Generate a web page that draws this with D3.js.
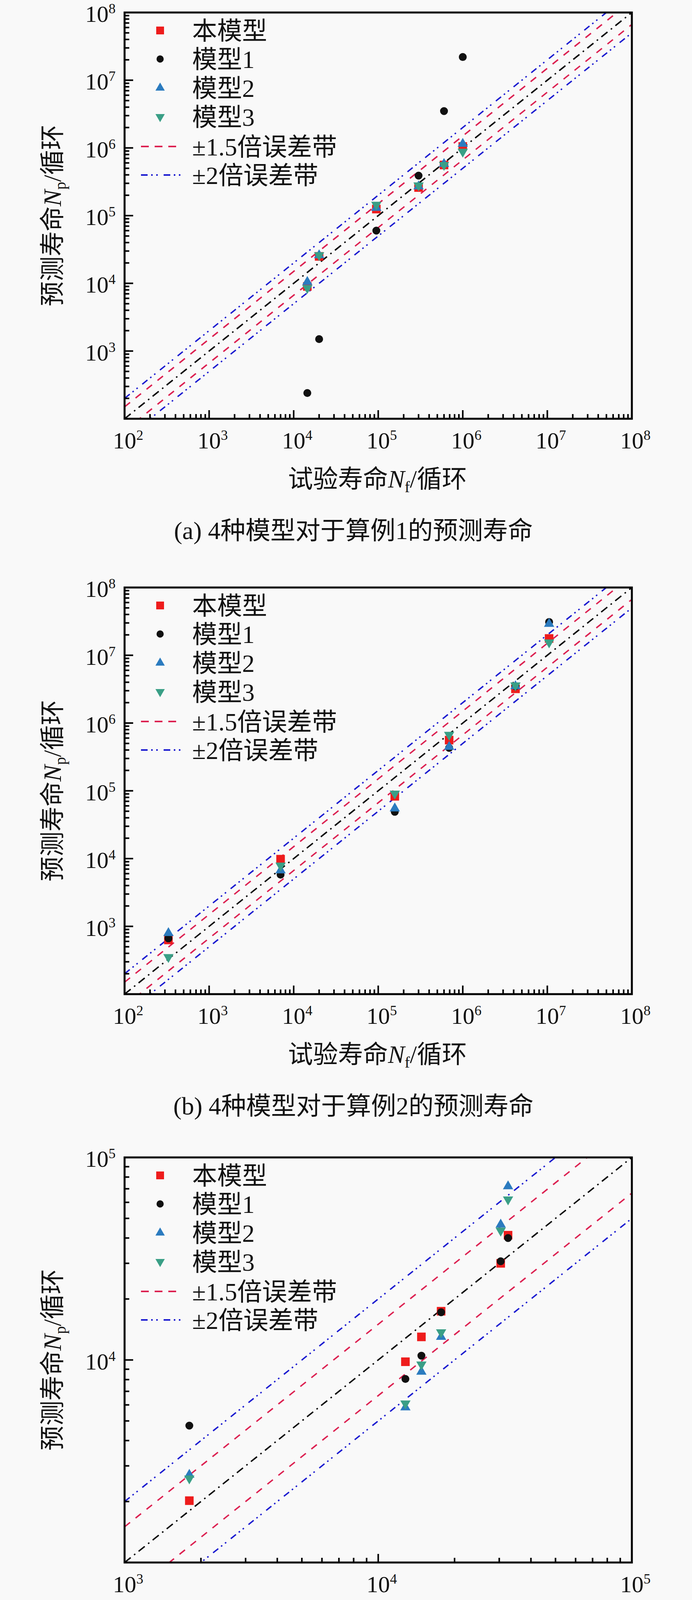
<!DOCTYPE html>
<html><head><meta charset="utf-8">
<script src="https://cdn.jsdelivr.net/npm/d3@7/dist/d3.min.js"></script>
<style>
body{margin:0;background:#f9f9f9;}
svg{display:block;}
text{font-family:"Liberation Serif","Times New Roman","Noto Sans CJK SC",serif;fill:#111;}
</style></head><body>
<svg id="chart" width="1772" height="5760"></svg>
<script>
// ---------- data ----------
const seriesNames = ["本模型", "模型1", "模型2", "模型3"];
const bandNames = ["±1.5倍误差带", "±2倍误差带"];
const captions = [
  "(a) 4种模型对于算例1的预测寿命",
  "(b) 4种模型对于算例2的预测寿命",
  "(c) 4种模型对于算例3的预测寿命",
  "(d) 4种模型对于算例4的预测寿命"
];

// panel (a) – case 1
const aTest = [1.45e4, 2.0e4, 9.5e4, 3.0e5, 6.0e5, 1.0e6];
const aOwn  = [9.0e3, 2.5e4, 1.25e5, 2.6e5, 5.6e5, 1.05e6];
const aM1   = [240, 1.5e3, 6.0e4, 3.9e5, 3.5e6, 2.2e7];
const aM2   = [1.05e4, 2.6e4, 1.3e5, 2.7e5, 5.8e5, 1.15e6];
const aM3   = [8.5e3, 2.6e4, 1.45e5, 2.8e5, 5.6e5, 8.8e5];
const aXTickExp = [2, 3, 4, 5, 6, 7, 8];
const aYTickExp = [3, 4, 5, 6, 7, 8];
const aDomain = [1e2, 1e8];

// panel (b) – case 2
const bTest = [330, 7.0e3, 1.57e5, 6.9e5, 4.2e6, 1.05e7];
const bOwn  = [630, 9.8e3, 8.3e4, 5.6e5, 3.2e6, 1.77e7];
const bM1   = [665, 5.8e3, 4.9e4, 4.3e5, 3.5e6, 3.1e7];
const bM2   = [796, 6.7e3, 5.5e4, 4.45e5, 3.5e6, 2.9e7];
const bM3   = [352, 7.9e3, 9.1e4, 6.7e5, 3.6e6, 1.55e7];
const bXTickExp = [2, 3, 4, 5, 6, 7, 8];
const bYTickExp = [3, 4, 5, 6, 7, 8];
const bDomain = [1e2, 1e8];

// panel (c) – case 3
const cTest = [1.8e3, 1.28e4, 1.48e4, 1.77e4, 3.04e4, 3.25e4];
const cOwn  = [2.02e3, 9.8e3, 1.3e4, 1.74e4, 3.0e4, 4.13e4];
const cM1   = [4.74e3, 8.06e3, 1.05e4, 1.72e4, 3.07e4, 4.0e4];
const cM2   = [2.71e3, 5.83e3, 8.75e3, 1.3e4, 4.66e4, 7.2e4];
const cM3   = [2.6e3, 6.1e3, 9.5e3, 1.37e4, 4.35e4, 6.2e4];
const cXTickExp = [3, 4, 5];
const cYTickExp = [4, 5];
const cDomain = [1e3, 1e5];

// panel (d) – case 4
const dTest = [16, 1.46e3, 4.85e3, 6.0e3, 9.6e3, 3.2e4, 3.4e4];
const dOwn  = [23, 1.22e3, 3.9e3, 5.2e3, 1.15e4, 3.0e4, 3.6e4];
const dM1   = [14.5, 717, 3.0e3, 4.7e3, 1.1e4, 4.2e4, 6.2e4];
const dM2   = [28, 1.07e3, 3.4e3, 4.25e3, 1.15e4, 3.8e4, 4.6e4];
const dM3   = [12.7, 1.75e3, 5.5e3, 6.6e3, 1.2e4, 2.1e4, 2.6e4];
const dXTickExp = [0, 1, 2, 3, 4, 5];
const dYTickExp = [1, 2, 3, 4, 5];
const dDomain = [1e0, 1e5];

// error-band factors drawn with [red dashed, blue dash-dot-dot] lines
const abcBandFactors = [1.5, 2];
const dBandFactors = [2, 1.5];

// ---------- styles ----------
const markerColors = ["#ee1c1c", "#111111", "#2b7bbf", "#3a9f86"];
const markerTypes = ["square", "circle", "up", "down"];
const redLine = "#dc2050", blueLine = "#1a1ad0";
const dashRed = "18,18", dashBlue = "17,9,4,9,4,15", dashBlack = "20,11,4,11";

const panels = [
  {test: aTest, series: [aOwn, aM1, aM2, aM3], xt: aXTickExp, yt: aYTickExp, dom: aDomain, bands: abcBandFactors, top: 32, bottom: 1072, legOff: 0},
  {test: bTest, series: [bOwn, bM1, bM2, bM3], xt: bXTickExp, yt: bYTickExp, dom: bDomain, bands: abcBandFactors, top: 1504, bottom: 2545, legOff: 0},
  {test: cTest, series: [cOwn, cM1, cM2, cM3], xt: cXTickExp, yt: cYTickExp, dom: cDomain, bands: abcBandFactors, top: 2963, bottom: 4000, legOff: 0},
  {test: dTest, series: [dOwn, dM1, dM2, dM3], xt: dXTickExp, yt: dYTickExp, dom: dDomain, bands: dBandFactors, top: 4409, bottom: 5455, legOff: 6}
];

const svg = d3.select("#chart");
svg.append("rect").attr("width", 1772).attr("height", 5760).attr("fill", "#f9f9f9");

const LEFT = 319, RIGHT = 1618;

function symbolPath(type, s) {
  if (type === "square") return d3.symbol(d3.symbolSquare, s * s)();
  if (type === "circle") return d3.symbol(d3.symbolCircle, Math.PI * (s * 0.46) * (s * 0.46))();
  return d3.symbol(d3.symbolTriangle, s * s * 0.62)();
}
function drawMarker(g, type, color, cx, cy, s) {
  g.append("path")
    .attr("d", symbolPath(type, s))
    .attr("transform", `translate(${cx},${cy})` + (type === "down" ? " rotate(180)" : ""))
    .attr("fill", color);
}

panels.forEach((p, pi) => {
  const x = d3.scaleLog().domain(p.dom).range([LEFT, RIGHT]);
  const y = d3.scaleLog().domain(p.dom).range([p.bottom, p.top]);
  const g = svg.append("g");
  const clipId = "clip" + pi;
  g.append("clipPath").attr("id", clipId).append("rect")
    .attr("x", LEFT).attr("y", p.top).attr("width", RIGHT - LEFT).attr("height", p.bottom - p.top);

  // reference lines
  const lg = g.append("g").attr("clip-path", `url(#${clipId})`);
  const lo = p.dom[0], hi = p.dom[1];
  const addLine = (f, color, dash) => {
    lg.append("line")
      .attr("x1", x(lo)).attr("y1", y(lo * f))
      .attr("x2", x(hi)).attr("y2", y(hi * f))
      .attr("stroke", color).attr("stroke-width", 3.6)
      .attr("stroke-dasharray", dash).attr("fill", "none");
  };
  addLine(1, "#000", dashBlack);
  addLine(p.bands[0], redLine, dashRed);
  addLine(1 / p.bands[0], redLine, dashRed);
  addLine(p.bands[1], blueLine, dashBlue);
  addLine(1 / p.bands[1], blueLine, dashBlue);

  // ticks (inward, left and bottom)
  const isMajor = v => Math.abs(Math.log10(v) - Math.round(Math.log10(v))) < 1e-9;
  const tg = g.append("g").attr("stroke", "#000").attr("stroke-width", 4);
  x.ticks().forEach(v => {
    const L = isMajor(v) ? 22 : 12;
    tg.append("line").attr("x1", x(v)).attr("x2", x(v)).attr("y1", p.bottom).attr("y2", p.bottom - L);
  });
  y.ticks().forEach(v => {
    const L = isMajor(v) ? 22 : 12;
    tg.append("line").attr("y1", y(v)).attr("y2", y(v)).attr("x1", LEFT).attr("x2", LEFT + L);
  });

  // frame
  g.append("rect").attr("x", LEFT).attr("y", p.top).attr("width", RIGHT - LEFT).attr("height", p.bottom - p.top)
    .attr("fill", "none").attr("stroke", "#000").attr("stroke-width", 5);

  // tick labels
  p.xt.forEach(e => {
    const t = g.append("text").attr("x", x(Math.pow(10, e)) - 30).attr("y", p.bottom + 76).attr("font-size", 60);
    t.append("tspan").text("10");
    t.append("tspan").attr("font-size", 36).attr("dy", -22).text(e);
  });
  p.yt.forEach(e => {
    const t = g.append("text").attr("x", 296).attr("y", y(Math.pow(10, e)) + 24).attr("font-size", 60).attr("text-anchor", "end");
    t.append("tspan").text("10");
    t.append("tspan").attr("font-size", 36).attr("dy", -22).text(e);
  });

  // data markers
  p.series.forEach((vals, si) => {
    vals.forEach((v, i) => drawMarker(g, markerTypes[si], markerColors[si], x(p.test[i]), y(v), 22));
  });

  // legend
  const ly0 = p.top + 46 + p.legOff;
  const rowOff = [0, 73, 147, 221, 297, 370];
  seriesNames.forEach((nm, si) => {
    const cy = ly0 + rowOff[si];
    drawMarker(g, markerTypes[si], markerColors[si], 410, cy, 20);
    g.append("text").attr("x", 492).attr("y", cy + 23).attr("font-size", 64).text(nm);
  });
  bandNames.forEach((nm, bi) => {
    const cy = ly0 + rowOff[4 + bi];
    g.append("line").attr("x1", 361).attr("x2", 465).attr("y1", cy).attr("y2", cy)
      .attr("stroke", bi === 0 ? redLine : blueLine).attr("stroke-width", 4)
      .attr("stroke-dasharray", bi === 0 ? "20,15" : dashBlue);
    g.append("text").attr("x", 492).attr("y", cy + 23).attr("font-size", 64).text(nm);
  });

  // axis titles
  const xt = g.append("text").attr("x", (LEFT + RIGHT) / 2 - 2).attr("y", p.bottom + 176)
    .attr("font-size", 64).attr("text-anchor", "middle");
  xt.append("tspan").text("试验寿命");
  xt.append("tspan").attr("font-style", "italic").text("N");
  xt.append("tspan").attr("font-size", 40).attr("dy", 12).text("f");
  xt.append("tspan").attr("dy", -12).text("/循环");

  const cyMid = (p.top + p.bottom) / 2;
  const yt = g.append("text").attr("transform", `translate(156,${cyMid}) rotate(-90)`)
    .attr("font-size", 64).attr("text-anchor", "middle");
  yt.append("tspan").text("预测寿命");
  yt.append("tspan").attr("font-style", "italic").text("N");
  yt.append("tspan").attr("font-size", 40).attr("dy", 12).text("p");
  yt.append("tspan").attr("dy", -12).text("/循环");

  // caption
  g.append("text").attr("x", 905).attr("y", p.bottom + 308).attr("font-size", 64)
    .attr("text-anchor", "middle").text(captions[pi]);
});
</script>
</body></html>
